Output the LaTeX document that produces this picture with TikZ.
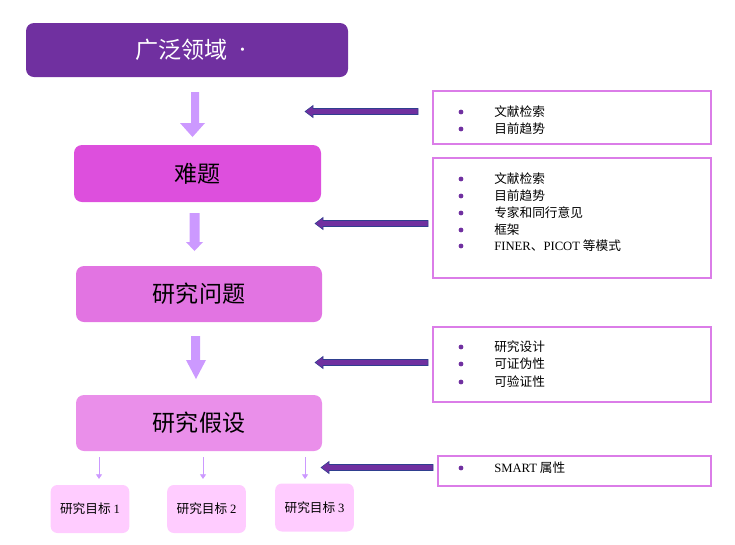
\documentclass[tikz,border=0pt]{standalone}
\usepackage{fontspec}
\usetikzlibrary{arrows.meta}
\setmainfont{Noto Sans CJK SC}
\newfontfamily\latin{Liberation Serif}
\definecolor{cdark}{HTML}{7030A0}
\definecolor{cnanti}{HTML}{DD4FDD}
\definecolor{cwenti}{HTML}{E274E2}
\definecolor{cjiashe}{HTML}{EA8FEA}
\definecolor{ctarget}{HTML}{FFCCFF}
\definecolor{clight}{HTML}{CC99FF}
\definecolor{cborder}{HTML}{DB7DE8}
\definecolor{coutline}{HTML}{2F3F8F}
\begin{document}
\begin{tikzpicture}[x=0.75pt,y=-0.75pt,
  mainbox/.style={rounded corners=6pt, inner sep=0pt, font=\fontsize{17.3}{20}\selectfont},
  infobox/.style={draw=cborder, line width=0.9pt, inner sep=0pt},
  target/.style={fill=ctarget, rounded corners=5pt, inner sep=0pt, minimum width=59pt, minimum height=36pt, font=\fontsize{9.5}{11}\selectfont},
  item/.style={anchor=west, inner sep=0pt, font=\fontsize{9.5}{11}\selectfont},
  dot/.style={circle, fill=cdark, inner sep=0pt, minimum size=3.6pt},
  thinarr/.style={draw=clight, line width=0.6pt, -{Triangle[length=3.5pt,width=4.5pt]}},
  blockarr/.style={fill=cdark, draw=coutline, line width=0.4pt},
  downarr/.style={fill=clight}
]
\useasboundingbox (0,0) rectangle (735,544);

% main column
\node[mainbox, fill=cdark, text=white, minimum width=241.5pt, minimum height=40.5pt] (field) at (187,50) {\hspace{6pt}广泛领域\hspace{8pt}{\latin\fontsize{20}{20}\selectfont ·}};
\node[mainbox, fill=cnanti, minimum width=185.25pt, minimum height=42.75pt] (nanti) at (197.5,173.5) {难题\hspace{26pt}};
\node[mainbox, fill=cwenti, minimum width=184.5pt, minimum height=42pt] (wenti) at (199,294) {研究问题};
\node[mainbox, fill=cjiashe, minimum width=184.5pt, minimum height=42pt] (jiashe) at (199,423) {研究假设\hspace{13.5pt}};

% block down arrows
\fill[downarr] (191,92) -- (199,92) -- (199,123) -- (205,123) -- (192.5,137) -- (180,123) -- (191,123) -- cycle;
\fill[downarr] (189.5,213) -- (199.5,213) -- (199.5,242) -- (203,242) -- (194.5,251) -- (186,242) -- (189.5,242) -- cycle;
\fill[downarr] (191,336) -- (200,336) -- (200,360) -- (206,360) -- (196,379) -- (186,360) -- (191,360) -- cycle;

% info boxes
\node[infobox, minimum width=208.5pt, minimum height=39.75pt] (r1) at (572,117.5) {};
\node[infobox, minimum width=208.5pt, minimum height=90pt] (r2) at (572,218) {};
\node[infobox, minimum width=208.5pt, minimum height=56.25pt] (r3) at (572,364.5) {};
\node[infobox, minimum width=204.75pt, minimum height=22.5pt] (r4) at (574.5,471) {};

% items box 1
\node[dot] (b11) at (461,112) {}; \node[item] (t11) at (494,112) {文献检索};
\node[dot] (b12) at (461,129) {}; \node[item] (t12) at (494,129) {目前趋势};
% items box 2
\node[dot] (b21) at (461,179) {}; \node[item] (t21) at (494,179) {文献检索};
\node[dot] (b22) at (461,196) {}; \node[item] (t22) at (494,196) {目前趋势};
\node[dot] (b23) at (461,213) {}; \node[item] (t23) at (494,213) {专家和同行意见};
\node[dot] (b24) at (461,230) {}; \node[item] (t24) at (494,230) {框架};
\node[dot] (b25) at (461,246) {}; \node[item] (t25) at (494,246) {{\latin FINER}、{\latin PICOT} 等模式};
% items box 3
\node[dot] (b31) at (461,347) {}; \node[item] (t31) at (494,347) {研究设计};
\node[dot] (b32) at (461,364) {}; \node[item] (t32) at (494,364) {可证伪性};
\node[dot] (b33) at (461,382) {}; \node[item] (t33) at (494,382) {可验证性};
% items box 4
\node[dot] (b41) at (461,468) {}; \node[item] (t41) at (494,468) {{\latin SMART} 属性};

% left block arrows
\filldraw[blockarr] (418,108.5) -- (313,108.5) -- (313,105.5) -- (305,111.5) -- (313,117.5) -- (313,114.5) -- (418,114.5) -- cycle;
\filldraw[blockarr] (428,220.5) -- (323,220.5) -- (323,217.5) -- (315,223.5) -- (323,229.5) -- (323,226.5) -- (428,226.5) -- cycle;
\filldraw[blockarr] (428,359.5) -- (323,359.5) -- (323,356.5) -- (315,362.5) -- (323,368.5) -- (323,365.5) -- (428,365.5) -- cycle;
\filldraw[blockarr] (433,464.5) -- (329,464.5) -- (329,461.5) -- (321,467.5) -- (329,473.5) -- (329,470.5) -- (433,470.5) -- cycle;

% targets
\node[target] (g1) at (90,509) {研究目标 {\latin 1}};
\node[target] (g2) at (206.5,509) {研究目标 {\latin 2}};
\node[target] (g3) at (314.5,507.5) {研究目标 {\latin 3}};

\coordinate (a1) at (99,457); \coordinate (e1) at (99,479);
\coordinate (a2) at (203,457); \coordinate (e2) at (203,479);
\coordinate (a3) at (305,457); \coordinate (e3) at (305,479);
\draw[thinarr] (a1) -- (e1);
\draw[thinarr] (a2) -- (e2);
\draw[thinarr] (a3) -- (e3);
\end{tikzpicture}
\end{document}
